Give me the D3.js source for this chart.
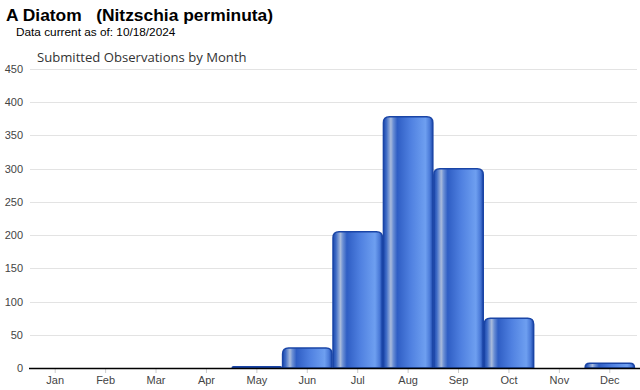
<!DOCTYPE html>
<html>
<head>
<meta charset="utf-8">
<script src="https://cdn.jsdelivr.net/npm/d3@7"></script>
<style>
  body { margin: 0; background: #fff; }
  #graph { width: 640px; height: 390px; }
</style>
</head>
<body>
<div id="graph"></div>
<script>
// chart data
const months = ["Jan", "Feb", "Mar", "Apr", "May", "Jun", "Jul", "Aug", "Sep", "Oct", "Nov", "Dec"];
const counts = [0, 0, 0, 0, 2, 30, 205, 378, 300, 75, 0, 7];
const yTicks = [0, 50, 100, 150, 200, 250, 300, 350, 400, 450];

const W = 640, H = 390;
const margin = {top: 69, right: 5, bottom: 22, left: 30};
const width = 635 - margin.left,
      height = 368 - margin.top;

const svg = d3.select("#graph")
  .append("svg")
    .attr("width", W)
    .attr("height", H);

// gradient for the bars
const defs = svg.append("defs");
const grad = defs.append("linearGradient")
    .attr("id", "barGrad")
    .attr("x1", "0%").attr("x2", "100%")
    .attr("y1", "0%").attr("y2", "0%");
[
  [0, "#1d49ad"], [0.06, "#3f6cc6"], [0.15, "#a9bbdc"], [0.2, "#6b8fd4"],
  [0.28, "#2f5ec4"], [0.55, "#4f80e0"], [0.85, "#6e9ff0"], [0.94, "#4a7ad8"], [1, "#1c47aa"]
].forEach(s => grad.append("stop").attr("offset", s[0]).attr("stop-color", s[1]));

// titles
svg.append("text")
  .attr("x", 6).attr("y", 21)
  .attr("font-family", "Liberation Sans, Arial, sans-serif")
  .attr("font-weight", "bold").attr("font-size", 17.4)
  .attr("fill", "#000")
  .attr("xml:space", "preserve")
  .text("A Diatom   (Nitzschia perminuta)");

svg.append("text")
  .attr("x", 16).attr("y", 36)
  .attr("font-family", "Liberation Sans, Arial, sans-serif")
  .attr("font-size", 11.8)
  .attr("fill", "#000")
  .text("Data current as of: 10/18/2024");

svg.append("text")
  .attr("x", 37).attr("y", 62)
  .attr("font-family", "Open Sans, DejaVu Sans, sans-serif")
  .attr("font-size", 13.1)
  .attr("fill", "#333")
  .text("Submitted Observations by Month");

const g = svg.append("g")
  .attr("transform", `translate(${margin.left},${margin.top})`);

// scales
const x = d3.scaleBand()
  .domain(months)
  .range([0, width])
  .padding(0);

const y = d3.scaleLinear()
  .domain([0, 450])
  .range([height, 0]);

// gridlines
g.append("g")
  .selectAll("line")
  .data(yTicks.filter(d => d > 0))
  .join("line")
    .attr("x1", 0).attr("x2", W - margin.left - 3)
    .attr("y1", d => Math.round(y(d)) + 0.5)
    .attr("y2", d => Math.round(y(d)) + 0.5)
    .attr("stroke", "#e3e3e3");

// y labels
g.append("g")
  .selectAll("text")
  .data(yTicks)
  .join("text")
    .attr("x", -7)
    .attr("y", d => y(d) + 4)
    .attr("text-anchor", "end")
    .attr("font-family", "Liberation Sans, Arial, sans-serif")
    .attr("font-size", 11)
    .attr("fill", "#444")
    .text(d => d);

// x axis
const xAxis = g.append("g")
  .attr("transform", `translate(0,${height})`)
  .call(d3.axisBottom(x).tickSize(5).tickSizeOuter(0));
xAxis.select(".domain").remove();
xAxis.selectAll(".tick line").attr("stroke", "#ccc");
xAxis.selectAll(".tick text")
  .attr("y", 8)
  .attr("dy", "0.71em")
  .attr("font-family", "Liberation Sans, Arial, sans-serif")
  .attr("font-size", 11)
  .attr("fill", "#444");

// bars, rounded top corners
const r = 6;
function barPath(d) {
  const x0 = x(d.m) + 0.5, x1 = x(d.m) + x.bandwidth() - 0.5;
  const y0 = y(d.v), yb = y(0);
  const rr = Math.min(r, (yb - y0), (x1 - x0) / 2);
  return `M${x0},${yb} L${x0},${y0 + rr} Q${x0},${y0} ${x0 + rr},${y0} ` +
         `L${x1 - rr},${y0} Q${x1},${y0} ${x1},${y0 + rr} L${x1},${yb} Z`;
}

const data = months.map((m, i) => ({m: m, v: counts[i]}));
g.append("g")
  .selectAll("path")
  .data(data.filter(d => d.v > 0))
  .join("path")
    .attr("d", barPath)
    .attr("fill", "url(#barGrad)")
    .attr("stroke", "#1a45a6")
    .attr("stroke-width", 1.5);

// baseline
g.append("line")
  .attr("x1", -1).attr("x2", W - margin.left)
  .attr("y1", height + 0.5).attr("y2", height + 0.5)
  .attr("stroke", "#000")
  .attr("stroke-width", 1.5);
</script>
</body>
</html>
